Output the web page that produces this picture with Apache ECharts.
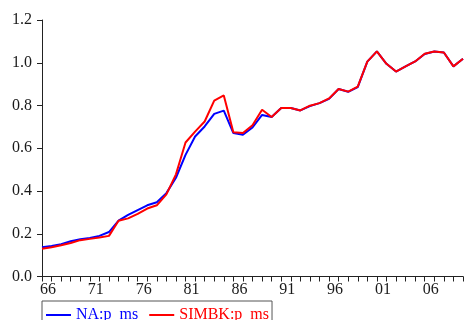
<!DOCTYPE html>
<html>
<head>
<meta charset="utf-8">
<script src="https://cdn.jsdelivr.net/npm/echarts@6/dist/echarts.min.js"></script>
<style>
  html, body { margin: 0; padding: 0; background: #fff; }
  #chart { width: 468px; height: 320px; }
</style>
</head>
<body>
<div id="chart"></div>
<script>
// Annual observations, 1966-2010
const years = [];
for (let y = 1966; y <= 2010; y++) years.push(y);

const naValues = [
  0.137, 0.143, 0.151, 0.165, 0.174, 0.180, 0.190, 0.208, 0.261, 0.288,
  0.311, 0.333, 0.347, 0.390, 0.462, 0.569, 0.655, 0.702, 0.761, 0.776,
  0.671, 0.663, 0.697, 0.756, 0.746, 0.788, 0.788, 0.777, 0.797, 0.811,
  0.831, 0.877, 0.864, 0.886, 1.005, 1.053, 0.995, 0.959, 0.983, 1.006,
  1.041, 1.053, 1.048, 0.983, 1.019
];

const simbkValues = [
  0.130, 0.137, 0.146, 0.157, 0.170, 0.176, 0.182, 0.190, 0.261, 0.272,
  0.293, 0.318, 0.333, 0.384, 0.478, 0.627, 0.678, 0.725, 0.823, 0.847,
  0.675, 0.671, 0.708, 0.780, 0.746, 0.788, 0.788, 0.777, 0.799, 0.811,
  0.833, 0.877, 0.865, 0.888, 1.005, 1.053, 0.995, 0.959, 0.983, 1.006,
  1.042, 1.053, 1.048, 0.983, 1.019
];

const yearLabels = [1966, 1971, 1976, 1981, 1986, 1991, 1996, 2001, 2006];
const seriesNames = ['NA:p_ms', 'SIMBK:p_ms'];
const seriesColors = ['#0000ff', '#ff0000'];

const FONT = 'Liberation Serif';
const FONT_SIZE = 16;
const TEXT = '#1a1a1a';
// year labels sit a little to the right of their observation tick
const LABEL_SHIFT = 0.63;

const chart = echarts.init(document.getElementById('chart'), null, { renderer: 'canvas' });

chart.setOption({
  animation: false,
  backgroundColor: '#fff',
  grid: { left: 42, right: 5, top: 20, bottom: 43.5, outerBoundsMode: 'none' },
  legend: {
    left: 42, top: 301,
    orient: 'horizontal',
    padding: [6, 3, 8, 4],
    itemGap: 11,
    itemWidth: 25,
    itemHeight: 2,
    borderColor: '#555',
    borderWidth: 1,
    borderRadius: 0,
    icon: 'rect',
    textStyle: { fontFamily: FONT, fontSize: FONT_SIZE },
    data: seriesNames.map((n, i) => ({
      name: n,
      itemStyle: { color: seriesColors[i] },
      textStyle: { color: seriesColors[i] }
    }))
  },
  xAxis: [
    {
      type: 'value',
      min: years[0],
      max: years[years.length - 1],
      interval: 1,
      axisLine: { show: true, lineStyle: { color: '#222', width: 1 } },
      axisTick: { show: true, inside: false, length: 5, lineStyle: { color: '#222' } },
      axisLabel: { show: false },
      splitLine: { show: false }
    },
    {
      type: 'value',
      position: 'bottom',
      min: years[0] - LABEL_SHIFT,
      max: years[years.length - 1] - LABEL_SHIFT,
      axisLine: { show: false },
      axisTick: { show: false },
      splitLine: { show: false },
      axisLabel: {
        show: true,
        customValues: yearLabels,
        margin: 5,
        fontFamily: FONT,
        fontSize: FONT_SIZE,
        color: TEXT,
        formatter: v => String(Math.round(v) % 100).padStart(2, '0')
      }
    }
  ],
  yAxis: {
    type: 'value',
    min: 0,
    max: 1.2,
    interval: 0.2,
    axisLine: { show: true, lineStyle: { color: '#222', width: 1 } },
    axisTick: { show: true, inside: false, length: 5, lineStyle: { color: '#222' } },
    axisLabel: {
      margin: 10,
      fontFamily: FONT,
      fontSize: FONT_SIZE,
      color: TEXT,
      formatter: v => v.toFixed(1)
    },
    splitLine: { show: false }
  },
  series: [
    {
      name: seriesNames[0],
      type: 'line',
      xAxisIndex: 0,
      data: years.map((y, i) => [y, naValues[i]]),
      symbol: 'none',
      lineStyle: { color: seriesColors[0], width: 2 },
      itemStyle: { color: seriesColors[0] },
      z: 2
    },
    {
      name: seriesNames[1],
      type: 'line',
      xAxisIndex: 0,
      data: years.map((y, i) => [y, simbkValues[i]]),
      symbol: 'none',
      lineStyle: { color: seriesColors[1], width: 2 },
      itemStyle: { color: seriesColors[1] },
      z: 3
    }
  ]
});
</script>
</body>
</html>
